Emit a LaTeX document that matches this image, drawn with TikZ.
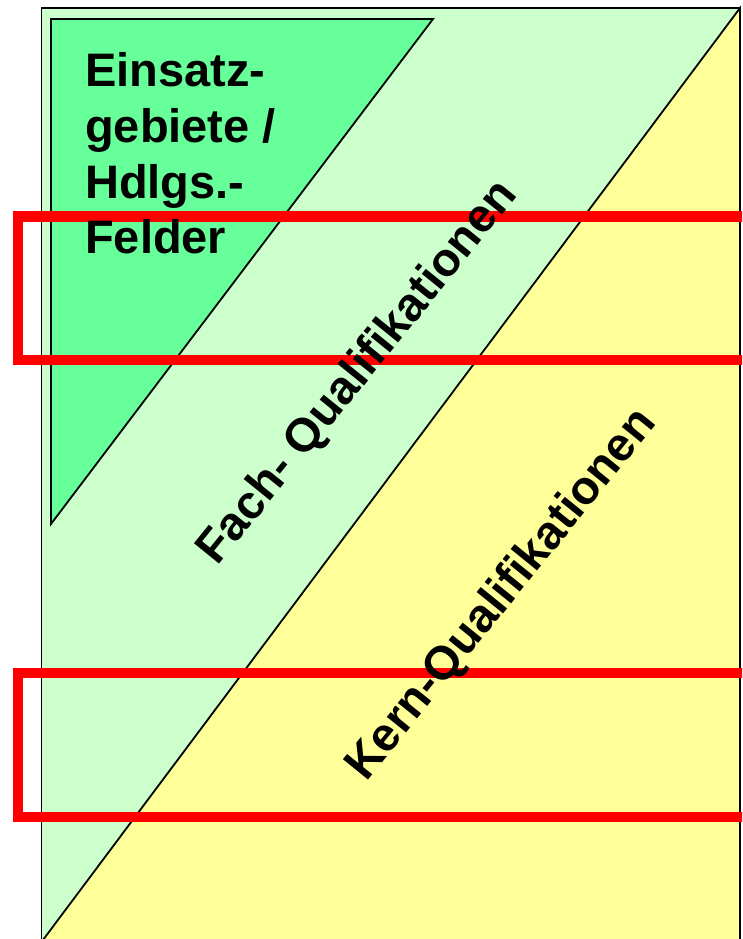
\documentclass[tikz,border=0pt]{standalone}
\usepackage{fontspec}
\setmainfont{Liberation Sans}
\definecolor{lightgreen}{HTML}{CCFFCC}
\definecolor{darkgreen}{HTML}{66FF99}
\definecolor{paleyellow}{HTML}{FFFF99}
\definecolor{redframe}{HTML}{FF0000}
\tikzset{
  region/.style={draw=black, line width=1.8pt, line join=miter},
  frame/.style={draw=redframe, line width=10.5pt},
  big/.style={font=\fontsize{47}{55}\selectfont\bfseries, inner sep=0pt, text=black}
}
\begin{document}
\begin{tikzpicture}[x=1pt,y=-1pt]
\useasboundingbox (0,0) rectangle (742,939);
\clip (0,0) rectangle (742,939);
% outer field
\fill[lightgreen] (41.5,8) rectangle (740,960);
% yellow triangle
\filldraw[fill=paleyellow, region] (740,8) -- (740,960) -- (28,960) -- cycle;
% dark green triangle
\filldraw[fill=darkgreen, region] (51,19) -- (433,19) -- (51,524) -- cycle;
% outer border
\draw[region] (41.5,960) -- (41.5,8) -- (740,8) -- (740,960);
% red frames
\draw[frame] (760,216.5) -- (18,216.5) -- (18,360) -- (760,360);
\draw[frame] (760,673) -- (18,673) -- (18,817) -- (760,817);
% texts
\node[big, anchor=base west] (l1) at (85,86.7) {Einsatz-};
\node[big, anchor=base west] (l2) at (85,142.5) {gebiete /};
\node[big, anchor=base west] (l3) at (85,198) {Hdlgs.-};
\node[big, anchor=base west] (l4) at (85,253.5) {Felder};
\node[big, anchor=base, rotate=51] (fach) at (368,381) {Fach- Qualifikationen};
\node[big, anchor=base, rotate=51] (kern) at (512,603) {Kern-Qualifikationen};
\end{tikzpicture}
\end{document}
